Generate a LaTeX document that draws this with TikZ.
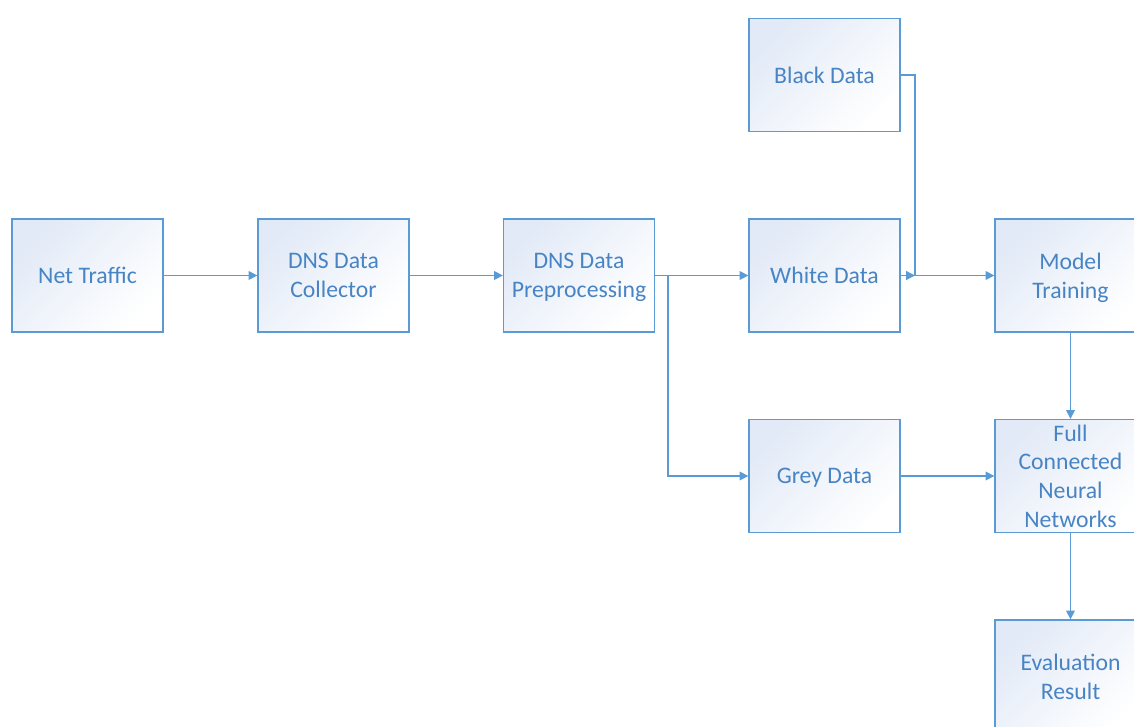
\documentclass[tikz,border=0pt]{standalone}
\usepackage{fontspec}
\setmainfont{Carlito}
\usetikzlibrary{arrows.meta}
\definecolor{lineblue}{RGB}{91,155,213}
\definecolor{textblue}{RGB}{72,132,196}
\definecolor{boxtop}{RGB}{226,234,247}
\tikzset{
  blockbox/.style={draw=lineblue, line width=0.75pt, top color=boxtop, bottom color=white, shading angle=45,
    minimum width=3.02cm, minimum height=2.26cm, inner sep=0pt, text depth=0pt, align=center, text=textblue,
    font=\fontsize{13.5}{16.4}\selectfont},
  link/.style={draw=lineblue, line width=0.75pt},
  flow/.style={link, -{Triangle[length=5pt,width=5pt]}}
}

\begin{document}
\begin{tikzpicture}[x=0.02cm, y=-0.02cm]
\useasboundingbox (0,0) rectangle (1134,727);
\clip (0,0) rectangle (1134,727);

\node[blockbox] (net) at (87.5,275.5) {Net Traffic};
\node[blockbox] (coll) at (333.5,275.5) {DNS Data\\Collector};
\node[blockbox] (prep) at (579,275.5) {DNS Data\\Preprocessing};
\node[blockbox] (black) at (824.5,75) {Black Data};
\node[blockbox] (white) at (824.5,275.5) {White Data};
\node[blockbox] (grey) at (824.5,476) {Grey Data};
\node[blockbox] (model) at (1070.5,275.5) {Model\\Training};
\node[blockbox] (fcnn) at (1070.5,476) {Full\\Connected\\Neural\\Networks};
\node[blockbox] (eval) at (1070.5,676.5) {Evaluation\\Result};

\coordinate (split) at (668,275.5);
\coordinate (join) at (915,275.5);

\draw[flow] (net) -- (coll);
\draw[flow] (coll) -- (prep);
\draw[flow] (prep) -- (white);
\draw[flow] (prep.east) -- (split) |- (grey);
\draw[link] (black.east) -| (join);
\draw[flow] (white) -- (join);
\draw[flow] (join) -- (model);
\draw[flow] (grey) -- (fcnn);
\draw[flow] (model) -- (fcnn);
\draw[flow] (fcnn) -- (eval);
\end{tikzpicture}
\end{document}
